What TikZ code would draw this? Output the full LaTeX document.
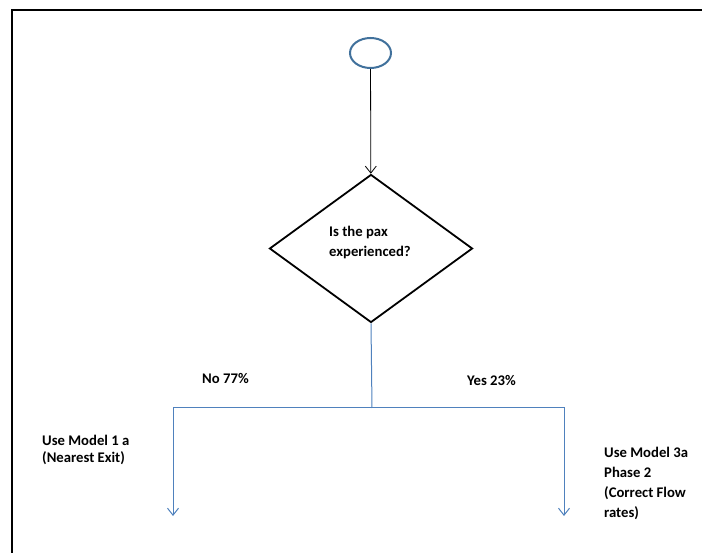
\documentclass[tikz,border=0pt]{standalone}
\usepackage{fontspec}
\setmainfont{Carlito}
\usetikzlibrary{arrows.meta,shapes.geometric}
\definecolor{startblue}{HTML}{41719C}
\definecolor{linkblue}{HTML}{4F81BD}
\begin{document}
\begin{tikzpicture}[x=1pt,y=-1pt,
  frame/.style={line width=2pt},
  startnode/.style={ellipse, draw=startblue, line width=2pt, minimum width=41pt, minimum height=30pt, inner sep=0pt},
  decision/.style={diamond, draw, line width=1.8pt, minimum width=203pt, minimum height=148pt, inner sep=0pt},
  txt/.style={font=\bfseries\fontsize{14.7}{#1}\selectfont, inner sep=0pt, align=left},
  txt/.default=20,
  flow/.style={line width=0.8pt, -{Straight Barb[length=7pt,width=11pt]}},
  branch/.style={draw=linkblue, line width=1pt},
  brancharrow/.style={branch, -{Straight Barb[length=7pt,width=11pt]}}
]
\useasboundingbox (0,0) rectangle (702,553);
% page frame
\draw[frame] (12,553) -- (12,10) -- (702,10);

% start terminal and decision
\node[startnode] (start) at (370.5,53) {};
\node[decision] (q) at (371,248.5) {};
\node[txt=19.5, anchor=north west] (qtext) at (329,226.3) {Is the pax\\experienced?};
\draw[flow] (start) -- (q);

% branching connectors
\coordinate (split) at (372,408);
\coordinate (lj) at (173,408);
\coordinate (rj) at (564,408);
\coordinate (lend) at (173,516);
\coordinate (rend) at (564,516);
\draw[branch] (q.south) -- (split);
\draw[brancharrow] (split) -- (lj) -- (lend);
\draw[brancharrow] (split) -- (rj) -- (rend);

% branch labels
\node[txt, anchor=base west] (no) at (202,384) {No 77\%};
\node[txt, anchor=base west] (yes) at (467,385.5) {Yes 23\%};
\node[txt=17.5, anchor=north west] (m1) at (42,434.7) {Use Model 1 a\\(Nearest Exit)};
\node[txt=20, anchor=north west] (m3) at (604,447) {Use Model 3a\\Phase 2\\(Correct Flow\\rates)};
\end{tikzpicture}
\end{document}
